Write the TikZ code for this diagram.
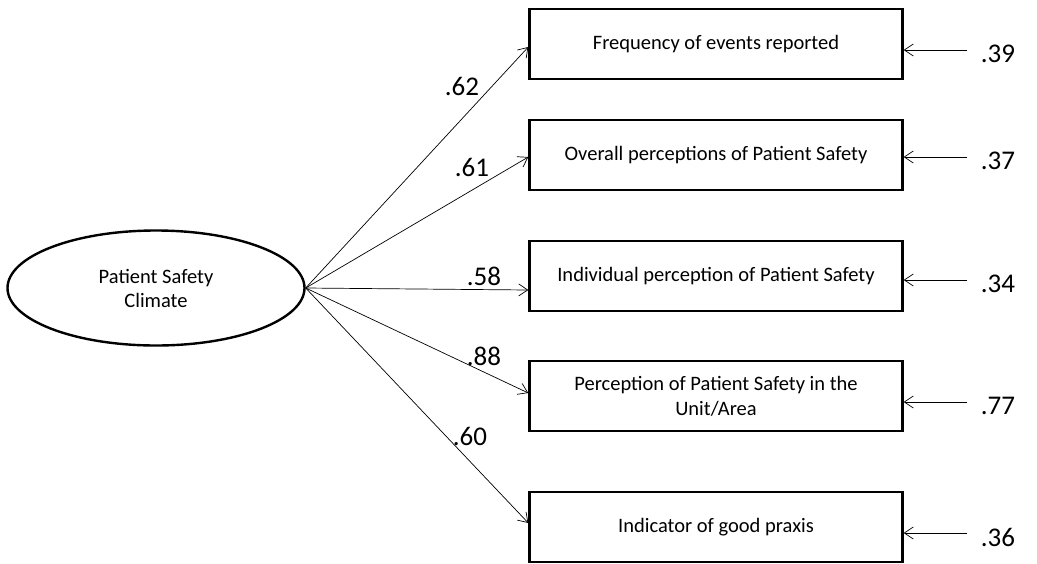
\documentclass[tikz,border=0pt]{standalone}
\usepackage{fontspec}
\setmainfont{Carlito}
\usetikzlibrary{shapes.geometric,arrows.meta}

\begin{document}
\begin{tikzpicture}[x=1pt, y=-1pt,
    latent/.style={ellipse, draw, line width=2.4pt,
        minimum width=297pt, minimum height=115pt,
        font=\fontsize{20.5}{24}\selectfont, align=center,
        inner sep=0pt},
    ind/.style={draw, line width=2.4pt,
        minimum width=373pt, minimum height=70pt,
        font=\fontsize{20.5}{25}\selectfont, align=center},
    load/.style={font=\fontsize{27}{30}\selectfont, inner sep=0pt},
    err/.style={font=\fontsize{27}{30}\selectfont, inner sep=0pt,
        outer sep=0pt, text width=48pt, align=right},
    path/.style={-{Straight Barb[length=9pt,width=12pt]}, line width=0.7pt}
    ]
    \useasboundingbox (0,0) rectangle (1037,563);
    \node[latent] (psc) at (156,288) {Patient Safety\\ Climate};
    \node[ind] (b1) at (716,44) {Frequency of events reported};
    \node[ind] (b2) at (716,155) {Overall perceptions of Patient Safety};
    \node[ind] (b3) at (716,276) {Individual perception of Patient Safety};
    \node[ind] (b4) at (716,396) {Perception of Patient Safety in the\\ Unit/Area};
    \node[ind] (b5) at (716,527) {Indicator of good praxis};
    % loadings
    \draw[path] (psc.east) -- ([yshift=-3pt]b1.west);
    \draw[path] (psc.east) -- ([yshift=-2pt]b2.west);
    \draw[path] (psc.east) -- ([yshift=-14pt]b3.west);
    \draw[path] (psc.east) -- ([yshift=3pt]b4.west);
    \draw[path] (psc.east) -- ([yshift=4pt]b5.west);
    \node[load] (l1) at (462,86) {.62};
    \node[load] (l2) at (472,167) {.61};
    \node[load] (l3) at (484,276) {.58};
    \node[load] (l4) at (484,356) {.88};
    \node[load] (l5) at (470,436) {.60};
    % error terms
    \foreach \v/\y [count=\i] in {.39/50,.37/157,.34/280,.77/402,.36/533}{
        \node[err, anchor=west] (e\i) at (967,\y+4) {\v};
        \draw[path] ([yshift=4pt]e\i.west) -- ([yshift=4pt]e\i.west -| b\i.east);
    }
\end{tikzpicture}
\end{document}
